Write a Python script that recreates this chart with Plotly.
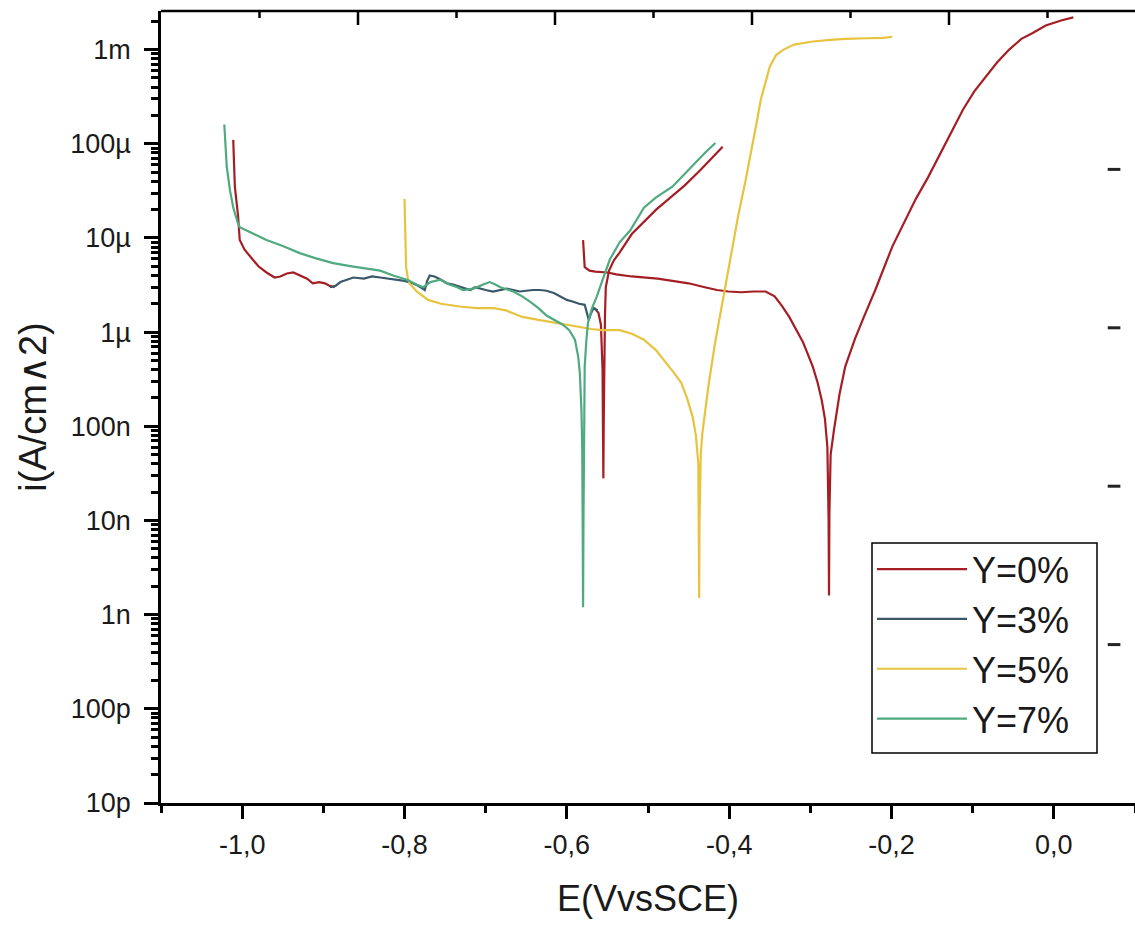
import plotly.graph_objects as go

# ---------------- data ----------------
names = ["Y=0%", "Y=3%", "Y=5%", "Y=7%"]
colors = ["#A51E24", "#39596B", "#E8C33F", "#4FAA80"]

# Y=0% : three visible pieces (None separates them)
e0 = [-1.011, -1.010, -1.009, -1.005, -1.003, -0.997, -0.990, -0.980, -0.970, -0.960,
      -0.953, -0.945, -0.937, -0.928, -0.920, -0.913, -0.905, -0.898, -0.892, -0.886,
      None,
      -0.566, -0.561, -0.558, -0.556, -0.5555, -0.555, -0.5545, -0.554, -0.553, -0.552,
      -0.548, -0.542, -0.535, -0.520, -0.505, -0.490, -0.470, -0.455, -0.436, -0.420, -0.408,
      None,
      -0.580, -0.579, -0.578, -0.572, -0.565, -0.550, -0.539, -0.520, -0.500, -0.488,
      -0.470, -0.450, -0.430, -0.415, -0.401, -0.385, -0.370, -0.355, -0.344, -0.335,
      -0.326, -0.318, -0.309, -0.303, -0.297, -0.291, -0.286, -0.282, -0.279, -0.2775,
      -0.277, -0.2765, -0.275, -0.271, -0.264, -0.257, -0.245, -0.234, -0.220, -0.199,
      -0.185, -0.170, -0.155, -0.142, -0.127, -0.112, -0.098, -0.084, -0.070, -0.055,
      -0.040, -0.026, -0.010, 0.010, 0.024]
i0 = [1.1e-4, 6e-5, 3.5e-5, 1.7e-5, 9.5e-6, 7.5e-6, 6.3e-6, 5.0e-6, 4.3e-6, 3.8e-6,
      3.9e-6, 4.2e-6, 4.3e-6, 4.0e-6, 3.7e-6, 3.3e-6, 3.4e-6, 3.3e-6, 3.1e-6, 3.0e-6,
      None,
      1.8e-6, 1.6e-6, 1.2e-6, 4e-7, 1e-7, 2.8e-8, 1.2e-7, 6e-7, 1.5e-6, 3.0e-6,
      4.5e-6, 5.8e-6, 7.0e-6, 1.1e-5, 1.5e-5, 2.0e-5, 2.8e-5, 3.6e-5, 5.2e-5, 7.2e-5, 9.3e-5,
      None,
      9.5e-6, 6.5e-6, 4.9e-6, 4.5e-6, 4.4e-6, 4.3e-6, 4.1e-6, 3.9e-6, 3.8e-6, 3.7e-6,
      3.5e-6, 3.3e-6, 3.0e-6, 2.8e-6, 2.7e-6, 2.65e-6, 2.7e-6, 2.7e-6, 2.4e-6, 1.9e-6,
      1.45e-6, 1.1e-6, 7.8e-7, 5.8e-7, 4.3e-7, 2.9e-7, 1.9e-7, 1.2e-7, 6e-8, 1.0e-8,
      1.6e-9, 1.2e-8, 5e-8, 9e-8, 2.2e-7, 4.3e-7, 8.5e-7, 1.45e-6, 2.8e-6, 8.1e-6,
      1.4e-5, 2.6e-5, 4.4e-5, 7.2e-5, 1.3e-4, 2.3e-4, 3.6e-4, 5.2e-4, 7.3e-4, 1.0e-3,
      1.3e-3, 1.5e-3, 1.8e-3, 2.05e-3, 2.2e-3]

e3 = [-0.892, -0.885, -0.879, -0.870, -0.863, -0.850, -0.840, -0.830, -0.820, -0.809,
      -0.800, -0.790, -0.783, -0.775, -0.772, -0.769, -0.763, -0.755, -0.748, -0.740,
      -0.730, -0.719, -0.713, -0.707, -0.700, -0.691, -0.683, -0.674, -0.666, -0.658,
      -0.650, -0.642, -0.633, -0.625, -0.616, -0.608, -0.600, -0.592, -0.585, -0.578,
      -0.575, -0.573, -0.570, -0.567, -0.562]
i3 = [3.0e-6, 3.1e-6, 3.4e-6, 3.6e-6, 3.8e-6, 3.7e-6, 3.9e-6, 3.8e-6, 3.7e-6, 3.6e-6,
      3.5e-6, 3.3e-6, 3.1e-6, 2.8e-6, 3.5e-6, 4.0e-6, 3.9e-6, 3.6e-6, 3.3e-6, 3.2e-6,
      3.0e-6, 2.8e-6, 3.0e-6, 2.9e-6, 2.8e-6, 2.7e-6, 2.8e-6, 2.9e-6, 2.8e-6, 2.7e-6,
      2.75e-6, 2.8e-6, 2.8e-6, 2.75e-6, 2.6e-6, 2.4e-6, 2.2e-6, 2.1e-6, 2.0e-6, 1.95e-6,
      1.6e-6, 1.35e-6, 1.6e-6, 1.8e-6, 1.7e-6]

e5 = [-0.800, -0.7995, -0.799, -0.798, -0.796, -0.794, -0.785, -0.771, -0.755, -0.740,
      -0.730, -0.710, -0.690, -0.675, -0.655, -0.635, -0.620, -0.604, -0.585, -0.570,
      -0.557, -0.545, -0.535, -0.520, -0.505, -0.490, -0.477, -0.468, -0.459, -0.452,
      -0.445, -0.441, -0.438, -0.4375, -0.437, -0.4365, -0.435, -0.433, -0.429, -0.425,
      -0.417, -0.408, -0.398, -0.389, -0.380, -0.372, -0.366, -0.361, -0.355, -0.350,
      -0.342, -0.333, -0.320, -0.297, -0.275, -0.257, -0.230, -0.210, -0.199]
i5 = [2.6e-5, 1.5e-5, 8e-6, 4.9e-6, 3.8e-6, 3.3e-6, 2.7e-6, 2.2e-6, 2.0e-6, 1.9e-6,
      1.86e-6, 1.8e-6, 1.8e-6, 1.7e-6, 1.45e-6, 1.35e-6, 1.28e-6, 1.2e-6, 1.12e-6, 1.08e-6,
      1.05e-6, 1.05e-6, 1.05e-6, 9.6e-7, 8.3e-7, 6.4e-7, 4.7e-7, 3.7e-7, 2.9e-7, 2.0e-7,
      1.26e-7, 8e-8, 4e-8, 1e-8, 1.5e-9, 1e-8, 5e-8, 8.5e-8, 1.6e-7, 2.9e-7,
      8e-7, 2.2e-6, 6.5e-6, 1.7e-5, 4.0e-5, 8.7e-5, 1.7e-4, 2.95e-4, 4.5e-4, 6.6e-4,
      8.8e-4, 1.0e-3, 1.13e-3, 1.22e-3, 1.27e-3, 1.3e-3, 1.32e-3, 1.33e-3, 1.37e-3]

e7 = [-1.022, -1.021, -1.019, -1.015, -1.011, -1.006, -1.003, -0.990, -0.970, -0.950,
      -0.929, -0.910, -0.888, -0.865, -0.846, -0.830, -0.814, -0.797, -0.785, -0.777,
      -0.768, -0.756, -0.745, -0.735, -0.728, -0.715, -0.703, -0.695, -0.688, -0.682,
      -0.666, -0.655, -0.645, -0.635, -0.625, -0.615, -0.605, -0.597, -0.590, -0.586,
      -0.584, -0.582, -0.581, -0.5805, -0.580, -0.5795, -0.579, -0.578, -0.576, -0.574,
      -0.569, -0.563, -0.555, -0.547, -0.535, -0.522, -0.505, -0.490, -0.470, -0.455,
      -0.442, -0.430, -0.417]
i7 = [1.6e-4, 1.1e-4, 5.7e-5, 3.2e-5, 2.1e-5, 1.5e-5, 1.3e-5, 1.15e-5, 9.5e-6, 8.2e-6,
      6.9e-6, 6.1e-6, 5.4e-6, 5.0e-6, 4.7e-6, 4.5e-6, 4.0e-6, 3.6e-6, 3.2e-6, 3.0e-6,
      3.4e-6, 3.6e-6, 3.2e-6, 3.0e-6, 2.8e-6, 2.9e-6, 3.2e-6, 3.4e-6, 3.2e-6, 3.0e-6,
      2.7e-6, 2.4e-6, 2.1e-6, 1.8e-6, 1.5e-6, 1.35e-6, 1.2e-6, 1.05e-6, 8.3e-7, 5.5e-7,
      3.7e-7, 1.5e-7, 5.6e-8, 1e-8, 1.2e-9, 1e-8, 8e-8, 4.3e-7, 8e-7, 1.25e-6,
      1.8e-6, 2.4e-6, 3.8e-6, 5.9e-6, 9.0e-6, 1.2e-5, 2.1e-5, 2.7e-5, 3.5e-5, 4.8e-5,
      6.3e-5, 8e-5, 1.02e-4]

x_range = [-1.1, 0.1]
x_tickvals = [-1.0, -0.8, -0.6, -0.4, -0.2, 0.0]
x_ticktext = ["-1,0", "-0,8", "-0,6", "-0,4", "-0,2", "0,0"]
y_log_range = [-11, -2.59]
y_tickvals = [1e-11, 1e-10, 1e-9, 1e-8, 1e-7, 1e-6, 1e-5, 1e-4, 1e-3]
y_ticktext = ["10p", "100p", "1n", "10n", "100n", "1µ", "10µ", "100µ", "1m"]
y_minor = [m * 10.0 ** p for p in range(-11, -2) for m in range(2, 10)]

# ---------------- layout geometry ----------------
W, H = 1135, 927
M_L, M_R, M_T, M_B = 161, 0, 11, 124
PW, PH = W - M_L - M_R, H - M_T - M_B
TOP_STEP = 98.5        # spacing (px) of the tick marks on the top frame
N_TOP = 9
LW = 2.5

FONT = "Liberation Sans, Arial, sans-serif"
fig = go.Figure()
for name, col, ex, iy in zip(names, colors, [e0, e3, e5, e7], [i0, i3, i5, i7]):
    fig.add_trace(go.Scatter(x=ex, y=iy, mode="lines", name=name,
                             line=dict(color=col, width=2.2), connectgaps=False,
                             cliponaxis=False))

fig.update_layout(
    width=W, height=H,
    margin=dict(l=M_L, r=M_R, t=M_T, b=M_B, autoexpand=False),
    paper_bgcolor="white", plot_bgcolor="white",
    font=dict(family=FONT, color="#1a1a1a"),
    xaxis=dict(range=x_range, tickmode="array", tickvals=x_tickvals, ticktext=x_ticktext,
               ticks="outside", ticklen=13, tickwidth=LW, tickcolor="black",
               minor=dict(dtick=0.1, tick0=0, ticks="outside", ticklen=7, tickwidth=LW,
                          tickcolor="black"),
               showline=True, linewidth=LW, linecolor="black", mirror=False,
               showgrid=False, zeroline=False, tickfont=dict(size=27),
               ticklabelstandoff=3,
               title=dict(text="E(VvsSCE)", font=dict(size=36), standoff=27)),
    yaxis=dict(type="log", range=y_log_range, tickmode="array",
               tickvals=y_tickvals, ticktext=y_ticktext,
               ticks="outside", ticklen=14, tickwidth=LW, tickcolor="black",
               minor=dict(tickmode="array", tickvals=y_minor, ticks="outside", ticklen=7,
                          tickwidth=LW, tickcolor="black"),
               showline=True, linewidth=LW, linecolor="black", mirror=False,
               showgrid=False, zeroline=False, tickfont=dict(size=27),
               ticklabelstandoff=8,
               title=dict(text="i(A/cm∧2)", font=dict(size=38), standoff=12)),
    legend=dict(x=0.730, y=0.333, xanchor="left", yanchor="top",
                bgcolor="rgba(0,0,0,0)", borderwidth=0,
                font=dict(size=36, family=FONT), itemwidth=90),
    showlegend=True,
)

# top frame line, drawn relative to the plot domain
fig.add_shape(type="line", xref="x domain", yref="y domain", x0=0, x1=1, y0=1, y1=1,
              line=dict(color="black", width=LW), layer="above")

# tick marks on the top frame (pointing inwards, long / short alternately)
for k in range(1, N_TOP + 1):
    xp = k * TOP_STEP / PW
    ln = 14 if k % 2 == 0 else 7
    fig.add_shape(type="line", xref="x domain", yref="y domain", x0=xp, x1=xp,
                  y0=1, y1=1 - ln / PH, line=dict(color="black", width=LW), layer="above")

# legend frame (wider than plotly's automatic box, as in the picture)
fig.add_shape(type="rect", xref="paper", yref="paper",
              x0=(872 - M_L) / PW, x1=(1097 - M_L) / PW,
              y0=(H - M_B - 753) / PH, y1=(H - M_B - 543) / PH,
              line=dict(color="black", width=1.5), fillcolor="white", layer="above")

# faint tick marks visible at the right edge of the picture
for yp in [0.8, 0.6, 0.4, 0.2]:
    fig.add_shape(type="line", xref="paper", yref="paper", x0=0.972, x1=0.985, y0=yp, y1=yp,
                  line=dict(color="#222222", width=3))

fig.write_html("out.html")
